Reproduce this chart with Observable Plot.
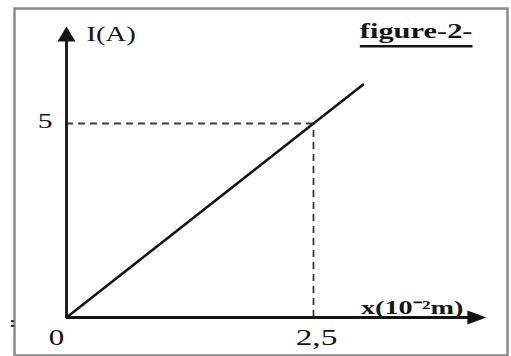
<!DOCTYPE html>
<html><head><meta charset="utf-8">
<script src="https://cdn.jsdelivr.net/npm/d3@7"></script>
<script src="https://cdn.jsdelivr.net/npm/@observablehq/plot@0.6"></script>
<style>html,body{margin:0;padding:0;background:#fff} svg{display:block}</style>
</head><body><div id="chart"></div>
<script>
// Data
const xValues = [0, 2.5, 3];        // x (10^-2 m)
const iValues = [0, 5, 6];          // I (A)
const markX = 2.5;                   // dashed guide x
const markI = 5;                     // dashed guide I
const xTickValues = [0, 2.5];
const xTickLabels = ["0", "2,5"];
const yTickValues = [5];
const yTickLabels = ["5"];
const xAxisEnd = 4.25;
const yAxisEnd = 7.5;
const titleText = "figure-2-";
const yLabelText = "I(A)";
const xLabelText = "x(10⁻²m)";
const strayText = [":"];

const points = xValues.map((x, k) => ({x, i: iValues[k]}));
const ink = "#141414";
const serif = "'Liberation Serif', 'Times New Roman', serif";

const arrowUp = {draw(ctx){ctx.moveTo(0,0);ctx.lineTo(-9,15);ctx.lineTo(9,15);ctx.closePath();}};
const arrowRight = {draw(ctx){ctx.moveTo(0,0);ctx.lineTo(-19,-7);ctx.lineTo(-19,7);ctx.closePath();}};

const chart = Plot.plot({
  width: 511,
  height: 356,
  marginLeft: 14, marginTop: 8, marginRight: 4, marginBottom: 1,
  x: {domain: [0, 2.5], range: [66, 313], axis: null},
  y: {domain: [0, 5], range: [317, 123], axis: null},
  style: {fontFamily: serif, background: "#fff"},
  marks: [
    Plot.frame({stroke: "#8a8a8a", strokeWidth: 2.5}),
    // dashed guides
    Plot.ruleY([markI], {x1: 0, x2: markX, stroke: "#3a3a3a", strokeWidth: 1.8, strokeDasharray: "7,5"}),
    Plot.ruleX([markX], {y1: 0, y2: markI, stroke: "#3a3a3a", strokeWidth: 1.8, strokeDasharray: "7,5"}),
    // axes
    Plot.ruleX([0], {y1: 0, y2: yAxisEnd - 0.2, stroke: ink, strokeWidth: 2.8}),
    Plot.ruleY([0], {x1: 0, x2: xAxisEnd - 0.1, stroke: ink, strokeWidth: 2.8}),
    Plot.dot([0], {x: 0, y: yAxisEnd, symbol: arrowUp, fill: ink, stroke: null}),
    Plot.dot([0], {x: xAxisEnd, y: 0, symbol: arrowRight, fill: ink, stroke: null}),
    // data line
    Plot.line(points, {x: "x", y: "i", stroke: ink, strokeWidth: 2.6}),
    // tick labels
    Plot.text(yTickValues, {x: 0, y: d => d, text: (d, k) => yTickLabels[k], textAnchor: "end", lineAnchor: "bottom", dx: -14, dy: 4, fontSize: 22, fill: ink}),
    Plot.text(xTickValues, {x: d => d, y: 0, text: (d, k) => xTickLabels[k], textAnchor: "middle", lineAnchor: "bottom", dy: 27, fontSize: 23, fill: ink}),
    // axis labels
    Plot.text([yLabelText], {x: 0, y: yAxisEnd, text: d => d, textAnchor: "start", lineAnchor: "bottom", dx: 20, dy: 14, fontSize: 20.5, fill: ink}),
    Plot.text([xLabelText], {x: xAxisEnd, y: 0, text: d => d, textAnchor: "end", lineAnchor: "bottom", dx: -23, dy: -4, fontSize: 19.5, fontWeight: "bold", fill: ink}),
    // title
    Plot.text([titleText], {frameAnchor: "top-right", text: d => d, textAnchor: "end", lineAnchor: "bottom", dx: -35, dy: 29, fontSize: 21, fontWeight: "bold", fill: ink}),
    Plot.text(strayText, {frameAnchor: "bottom-left", text: d => d, textAnchor: "middle", lineAnchor: "bottom", dx: -2, dy: -29, fontSize: 15, fontWeight: "bold", fill: "#1b2a4a"})
  ]
});

document.getElementById("chart").appendChild(chart);

// horizontally stretch glyphs like the reference scan
const stretch = {"0": 1.35, "2,5": 1.45, "5": 1.35, [yLabelText]: 1.4, [xLabelText]: 1.45, [titleText]: 1.45};
const shift = {"0": -10, "2,5": 3};
d3.select(chart).selectAll("text").each(function() {
  const s = this.textContent;
  let t = this.getAttribute("transform");
  if (!t) return;
  if (shift[s]) t = t.replace(/translate\(([-\d.e]+),/, (m, a) => `translate(${+a + shift[s]},`);
  this.setAttribute("transform", t + ` scale(${stretch[s] || 1.4},1)`);
});

// underline for the title
const svgRect = chart.getBoundingClientRect();
d3.select(chart).selectAll("text").filter(function(){ return this.textContent === titleText; }).each(function() {
  const r = this.getBoundingClientRect();
  d3.select(chart).append("line")
    .attr("x1", r.left - svgRect.left).attr("x2", r.right - svgRect.left)
    .attr("y1", r.bottom - svgRect.top + 4).attr("y2", r.bottom - svgRect.top + 4)
    .attr("stroke", ink).attr("stroke-width", 2.5);
});
</script>
</body></html>
